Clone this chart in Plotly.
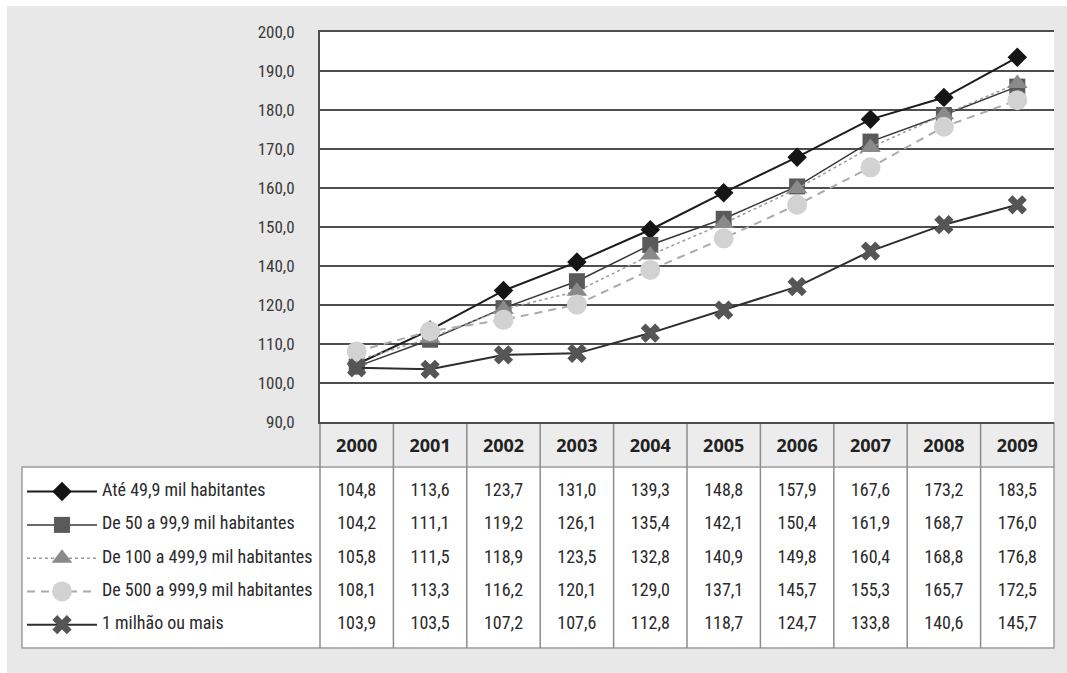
import plotly.graph_objects as go

# Index values by municipality size class, 2000-2009
YEARS = ["2000", "2001", "2002", "2003", "2004", "2005", "2006", "2007", "2008", "2009"]
SERIES_NAMES = [
    "Até 49,9 mil habitantes",
    "De 50 a 99,9 mil habitantes",
    "De 100 a 499,9 mil habitantes",
    "De 500 a 999,9 mil habitantes",
    "1 milhão ou mais",
]
ATE_49_9 = [104.8, 113.6, 123.7, 131.0, 139.3, 148.8, 157.9, 167.6, 173.2, 183.5]
DE_50_A_99_9 = [104.2, 111.1, 119.2, 126.1, 135.4, 142.1, 150.4, 161.9, 168.7, 176.0]
DE_100_A_499_9 = [105.8, 111.5, 118.9, 123.5, 132.8, 140.9, 149.8, 160.4, 168.8, 176.8]
DE_500_A_999_9 = [108.1, 113.3, 116.2, 120.1, 129.0, 137.1, 145.7, 155.3, 165.7, 172.5]
UM_MILHAO_OU_MAIS = [103.9, 103.5, 107.2, 107.6, 112.8, 118.7, 124.7, 133.8, 140.6, 145.7]
SERIES_VALUES = [ATE_49_9, DE_50_A_99_9, DE_100_A_499_9, DE_500_A_999_9, UM_MILHAO_OU_MAIS]

# Value-axis gridlines and the labels printed beside them
Y_TICK_VALUES = [90, 100, 110, 120, 130, 140, 150, 160, 170, 180, 190]
Y_TICK_LABELS = ["90,0", "100,0", "110,0", "120,0", "140,0", "150,0",
                 "160,0", "170,0", "180,0", "190,0", "200,0"]

W, H = 1067, 673
NARROW = "Roboto Condensed, Liberation Sans Narrow, sans-serif"

STYLES = [
    dict(line=dict(color="#1c1c1c", width=2),
         marker=dict(symbol="diamond", size=15, color="#151515")),
    dict(line=dict(color="#383838", width=1.5),
         marker=dict(symbol="square", size=16, color="#5a5a5a")),
    dict(line=dict(color="#9a9a9a", width=1.5, dash="dot"),
         marker=dict(symbol="triangle-up", size=18, color="#8a8a8a")),
    dict(line=dict(color="#ababab", width=2, dash="8px,6px"),
         marker=dict(symbol="circle", size=20, color="#d2d2d2")),
    dict(line=dict(color="#2e2e2e", width=2),
         marker=dict(symbol="x", size=17, color="#555555")),
]


def fx(px):
    return px / W


def fy(py):
    return 1 - py / H


def fmt(v):
    return f"{v:.1f}".replace(".", ",")


# Frame geometry (pixels)
PLOT_L, PLOT_R, PLOT_T, PLOT_B = 320, 1054, 32, 422
HEAD_B, TABLE_B, LEG_L = 467, 648, 22

fig = go.Figure()

# Lines with markers
for name, vals, st in zip(SERIES_NAMES, SERIES_VALUES, STYLES):
    fig.add_trace(go.Scatter(
        x=YEARS, y=vals, name=name, mode="lines+markers",
        line=st["line"], marker=st["marker"], showlegend=False,
        xaxis="x", yaxis="y", cliponaxis=False,
    ))

# Data table: values under each year
for i, vals in enumerate(SERIES_VALUES):
    fig.add_trace(go.Scatter(
        x=YEARS, y=[i] * len(vals), mode="text",
        text=[fmt(v) for v in vals], textposition="middle center",
        textfont=dict(family=NARROW, size=18, color="#2a2a2a"),
        showlegend=False, xaxis="x", yaxis="y2", cliponaxis=False,
    ))

# Legend keys in the table's first column
KEY_X0, KEY_XM, KEY_X1, LABEL_X = 27, 62, 97, 102
for i, (name, st) in enumerate(zip(SERIES_NAMES, STYLES)):
    fig.add_trace(go.Scatter(
        x=[KEY_X0, KEY_X1], y=[i, i], mode="lines", line=st["line"],
        showlegend=False, xaxis="x3", yaxis="y2",
    ))
    fig.add_trace(go.Scatter(
        x=[KEY_XM], y=[i], mode="markers", marker=st["marker"],
        showlegend=False, xaxis="x3", yaxis="y2", cliponaxis=False,
    ))
    fig.add_trace(go.Scatter(
        x=[LABEL_X], y=[i], mode="text", text=[name],
        textposition="middle right",
        textfont=dict(family=NARROW, size=18, color="#2a2a2a"),
        showlegend=False, xaxis="x3", yaxis="y2", cliponaxis=False,
    ))

shapes = []
# White page edge above and left of the gray panel
shapes.append(dict(type="rect", xref="paper", yref="paper", layer="below",
                   x0=0, x1=1, y0=fy(6), y1=1,
                   fillcolor="white", line=dict(width=0)))
shapes.append(dict(type="rect", xref="paper", yref="paper", layer="below",
                   x0=0, x1=fx(7), y0=0, y1=1,
                   fillcolor="white", line=dict(width=0)))
# White plotting area
shapes.append(dict(type="rect", xref="paper", yref="paper", layer="below",
                   x0=fx(PLOT_L), x1=fx(PLOT_R), y0=fy(PLOT_B), y1=fy(PLOT_T),
                   fillcolor="white", line=dict(width=0)))
# Header strip of the table
shapes.append(dict(type="rect", xref="paper", yref="paper", layer="below",
                   x0=fx(PLOT_L), x1=fx(PLOT_R), y0=fy(HEAD_B), y1=fy(PLOT_B),
                   fillcolor="#ececec", line=dict(width=0)))
# Table body including the legend column
shapes.append(dict(type="rect", xref="paper", yref="paper", layer="below",
                   x0=fx(LEG_L), x1=fx(PLOT_R), y0=fy(TABLE_B), y1=fy(HEAD_B),
                   fillcolor="white", line=dict(color="#9c9c9c", width=1.5)))
# Header right border
shapes.append(dict(type="line", xref="paper", yref="paper", layer="below",
                   x0=fx(PLOT_R), x1=fx(PLOT_R), y0=fy(HEAD_B), y1=fy(PLOT_B),
                   line=dict(color="#9c9c9c", width=1.5)))
# Column dividers
col_w = (PLOT_R - PLOT_L) / len(YEARS)
for k in range(len(YEARS)):
    xk = PLOT_L + k * col_w
    shapes.append(dict(type="line", xref="paper", yref="paper", layer="below",
                       x0=fx(xk), x1=fx(xk), y0=fy(TABLE_B), y1=fy(PLOT_B),
                       line=dict(color="#8c8c8c", width=1.5)))

fig.update_layout(
    width=W, height=H, autosize=False,
    margin=dict(l=0, r=0, t=0, b=0, autoexpand=False),
    paper_bgcolor="#e8e8e8",
    plot_bgcolor="rgba(0,0,0,0)",
    shapes=shapes,
    showlegend=False,
    xaxis=dict(
        domain=[fx(PLOT_L), fx(PLOT_R)], type="category",
        range=[-0.5, len(YEARS) - 0.5], automargin=False,
        showgrid=False, zeroline=False,
        showline=True, mirror=True, linecolor="#4e4e4e", linewidth=2,
        ticks="", ticklabelstandoff=6,
        tickfont=dict(family="Open Sans, sans-serif", size=18, color="#222222",
                      weight="bold"),
        anchor="y", fixedrange=True,
    ),
    yaxis=dict(
        domain=[fy(PLOT_B), fy(PLOT_T)], automargin=False,
        range=[Y_TICK_VALUES[0], Y_TICK_VALUES[-1]],
        tickmode="array", tickvals=Y_TICK_VALUES, ticktext=Y_TICK_LABELS,
        showgrid=True, gridcolor="#4e4e4e", gridwidth=2,
        zeroline=False, showline=True, linecolor="#4e4e4e", linewidth=2,
        ticks="", ticklabelstandoff=20,
        tickfont=dict(family=NARROW, size=17, color="#3a3a3a"),
        anchor="x", fixedrange=True,
    ),
    yaxis2=dict(
        domain=[fy(TABLE_B), fy(HEAD_B)], range=[4.70, -0.74],
        visible=False, anchor="x", fixedrange=True, automargin=False,
    ),
    xaxis3=dict(
        domain=[fx(LEG_L), fx(PLOT_L)], range=[LEG_L, PLOT_L],
        visible=False, anchor="y2", fixedrange=True, automargin=False,
    ),
)

fig.write_html("out.html")
